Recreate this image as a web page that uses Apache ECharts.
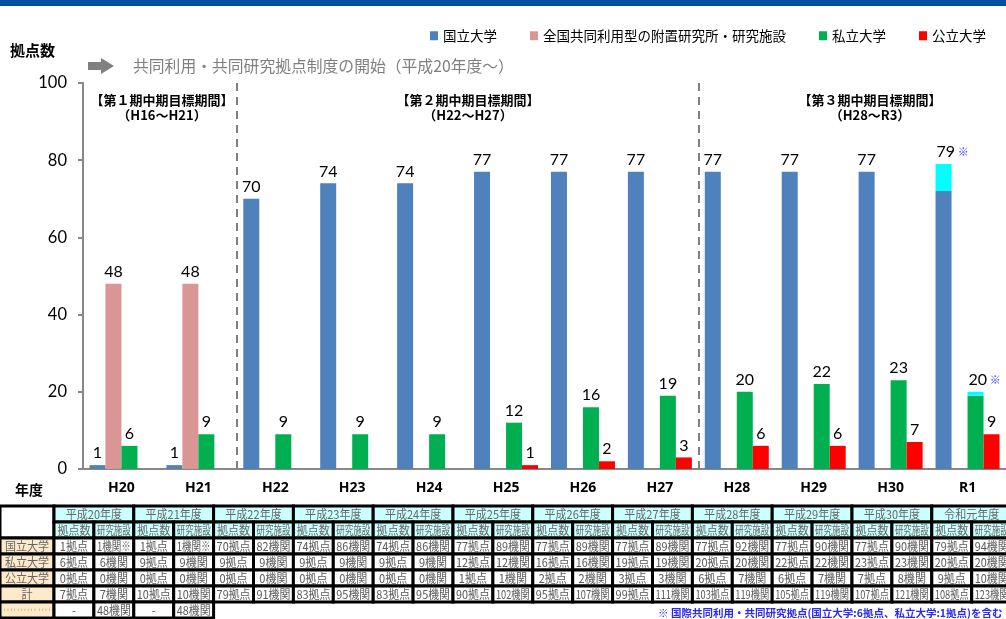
<!DOCTYPE html>
<html>
<head>
<meta charset="utf-8">
<script src="https://cdn.jsdelivr.net/npm/echarts@6/dist/echarts.min.js"></script>
<style>
  html, body { margin: 0; padding: 0; background: #fff; }
  #chart { width: 1006px; height: 619px; }
</style>
</head>
<body>
<div id="chart"></div>
<script>
// chart data
var years = ['H20', 'H21', 'H22', 'H23', 'H24', 'H25', 'H26', 'H27', 'H28', 'H29', 'H30', 'R1'];
var national = [1, 1, 70, 74, 74, 77, 77, 77, 77, 77, 77, 72];
var nationalIntl = [null, null, null, null, null, null, null, null, null, null, null, 7];
var institutes = [48, 48, null, null, null, null, null, null, null, null, null, null];
var privateUniv = [6, 9, 9, 9, 9, 12, 16, 19, 20, 22, 23, 19];
var privateIntl = [null, null, null, null, null, null, null, null, null, null, null, 1];
var publicUniv = [null, null, null, null, null, 1, 2, 3, 6, 6, 7, 9];
// period boundaries (category index where a new period starts)
var periodStarts = [2, 8];

// table data
var tableYears = ['平成20年度', '平成21年度', '平成22年度', '平成23年度', '平成24年度', '平成25年度',
  '平成26年度', '平成27年度', '平成28年度', '平成29年度', '平成30年度', '令和元年度'];
var rowNames = ['国立大学', '私立大学', '公立大学', '計'];
var natBases = [1, 1, 70, 74, 74, 77, 77, 77, 77, 77, 77, 79];
var natInst = ['1機関※', '1機関※', 82, 86, 86, 89, 89, 89, 92, 90, 90, 94];
var privBases = [6, 9, 9, 9, 9, 12, 16, 19, 20, 22, 23, 20];
var privInst = [6, 9, 9, 9, 9, 12, 16, 19, 20, 22, 23, 20];
var pubBases = [0, 0, 0, 0, 0, 1, 2, 3, 6, 6, 7, 9];
var pubInst = [0, 0, 0, 0, 0, 1, 2, 3, 7, 7, 8, 10];
var totBases = [7, 10, 79, 83, 83, 90, 95, 99, 103, 105, 107, 108];
var totInst = [7, 10, 91, 95, 95, 102, 107, 111, 119, 119, 121, 123];
var extraRow = [['-', '48機関'], ['-', '48機関']];

var CJK = '"Noto Sans CJK JP", "Noto Sans", sans-serif';
var NUM = 'Lato, "Noto Sans", sans-serif';

var dom = document.getElementById('chart');
var myChart = echarts.init(dom);

// measure text so table cells shrink to fit like the spreadsheet did
var mctx = document.createElement('canvas').getContext('2d');
var cellFont = 12;

var g = [];
g.push({ type: 'rect', shape: { x: 0, y: 0, width: 1006, height: 6 }, style: { fill: '#0050a0' } });

function cell(x, y, w, h, fill, txt, color) {
  g.push({ type: 'rect', shape: { x: x, y: y, width: w, height: h },
    style: { fill: fill, stroke: '#000', lineWidth: 3 } });
  if (txt !== undefined && txt !== null && txt !== '') {
    mctx.font = cellFont + 'px ' + CJK;
    var tw = mctx.measureText(String(txt)).width;
    var sx = Math.min(0.92, (w - 6) / tw);
    g.push({ type: 'text', x: x + w / 2, y: y + h / 2 + 0.5, scaleX: sx,
      style: { text: String(txt), fontSize: cellFont, fontFamily: CJK, fill: color || '#595959',
        align: 'center', verticalAlign: 'middle' } });
  }
}

var tblTop = 506, rowH = 16, lblW = 54, colW = 79.8;
cell(0, tblTop, lblW, rowH * 2, '#fff');
var dataRows = [[natBases, natInst], [privBases, privInst], [pubBases, pubInst], [totBases, totInst]];
for (var r = 0; r < rowNames.length; r++) {
  cell(0, tblTop + rowH * (r + 2), lblW, rowH, '#fdeacb', rowNames[r], '#666');
}
cell(0, tblTop + rowH * 6, lblW, rowH, '#fdeacb', '・・・・・・・・・・ ・・・・', '#c9a060');
for (var i = 0; i < tableYears.length; i++) {
  var x = lblW + i * colW;
  cell(x, tblTop, colW, rowH, '#ccffff', tableYears[i], '#666');
  cell(x, tblTop + rowH, colW / 2, rowH, '#ccffff', '拠点数', '#666');
  cell(x + colW / 2, tblTop + rowH, colW / 2, rowH, '#ccffff', '研究施設', '#666');
  for (var r = 0; r < dataRows.length; r++) {
    var b = dataRows[r][0][i], ins = dataRows[r][1][i];
    cell(x, tblTop + rowH * (r + 2), colW / 2, rowH, '#fff', b + '拠点');
    cell(x + colW / 2, tblTop + rowH * (r + 2), colW / 2, rowH, '#fff',
      typeof ins === 'string' ? ins : ins + '機関');
  }
}
for (var i = 0; i < extraRow.length; i++) {
  var x = lblW + i * colW;
  cell(x, tblTop + rowH * 6, colW / 2, rowH, '#fff', extraRow[i][0]);
  cell(x + colW / 2, tblTop + rowH * 6, colW / 2, rowH, '#fff', extraRow[i][1]);
}

// titles / notes
g.push({ type: 'text', x: 10, y: 50, style: { text: '拠点数', fontSize: 15, fontWeight: 'bold',
  fontFamily: CJK, fill: '#000', verticalAlign: 'middle' } });
g.push({ type: 'polygon', shape: { points: [[88, 62], [101, 62], [101, 58], [114, 66], [101, 74], [101, 70], [88, 70]] },
  style: { fill: '#808080' } });
g.push({ type: 'text', x: 133, y: 66, style: { text: '共同利用・共同研究拠点制度の開始（平成20年度～）',
  fontSize: 15.8, fontFamily: CJK, fill: '#7f7f7f', verticalAlign: 'middle' } });
var periods = [[162, '【第１期中期目標期間】', '（H16～H21）'],
  [468, '【第２期中期目標期間】', '（H22～H27）'],
  [870, '【第３期中期目標期間】', '（H28～R3）']];
periods.forEach(function (p) {
  g.push({ type: 'text', x: p[0], y: 100, style: { text: p[1], fontSize: 13, fontWeight: 'bold',
    fontFamily: CJK, fill: '#000', align: 'center', verticalAlign: 'middle' } });
  g.push({ type: 'text', x: p[0], y: 115, style: { text: p[2], fontSize: 13, fontWeight: 'bold',
    fontFamily: CJK, fill: '#000', align: 'center', verticalAlign: 'middle' } });
});
g.push({ type: 'text', x: 15, y: 490, style: { text: '年度', fontSize: 14, fontWeight: 'bold',
  fontFamily: CJK, fill: '#000', verticalAlign: 'middle' } });
g.push({ type: 'text', x: 658, y: 608, style: { text: '※ 国際共同利用・共同研究拠点(国立大学:6拠点、私立大学:1拠点)を含む',
  fontSize: 10.5, fontWeight: 'bold', fontFamily: CJK, fill: '#2a2aee' } });

var valLabel = { show: true, position: 'top', distance: 4, fontSize: 16, fontFamily: NUM, color: '#000' };
function starLabel(total) {
  return { show: true, position: 'top', distance: 4, offset: [9, 0],
    formatter: '{v|' + total + '} {m|※}',
    rich: { v: { fontSize: 16, fontFamily: NUM, color: '#000' },
            m: { fontSize: 11, fontFamily: CJK, color: '#3333ff' } } };
}
var last = years.length - 1;
var natData = national.map(function (v, i) { return i === last ? { value: v, label: { show: false } } : v; });
var privData = privateUniv.map(function (v, i) { return i === last ? { value: v, label: { show: false } } : v; });
var natIntlData = nationalIntl.map(function (v, i) {
  return v == null ? null : { value: v, label: starLabel(national[i] + v) };
});
var privIntlData = privateIntl.map(function (v, i) {
  return v == null ? null : { value: v, label: starLabel(privateUniv[i] + v) };
});

option = {
  animation: false,
  textStyle: { fontFamily: CJK },
  legend: {
    data: ['国立大学', '全国共同利用型の附置研究所・研究施設', '私立大学', '公立大学'],
    left: 425, top: 24, icon: 'rect', itemWidth: 8, itemHeight: 9, itemGap: 33,
    textStyle: { fontSize: 13.5, color: '#000', fontFamily: CJK }
  },
  grid: { left: 83, top: 83, width: 924, height: 386 },
  xAxis: [{
    type: 'category', data: years,
    axisLine: { lineStyle: { color: '#888', width: 2 } },
    axisTick: { length: 5, lineStyle: { color: '#888', width: 2 } },
    axisLabel: { fontSize: 14, fontWeight: 'bold', color: '#000', margin: 12, fontFamily: 'Noto Sans' },
    splitLine: { show: false }
  }, {
    // helper axis so the period dividers sit on category boundaries
    type: 'value', min: 0, max: years.length, show: false
  }],
  yAxis: {
    type: 'value', min: 0, max: 100, interval: 20,
    axisLine: { show: true, lineStyle: { color: '#888', width: 2 } },
    axisTick: { show: true, length: 5, lineStyle: { color: '#888', width: 2 } },
    axisLabel: { fontSize: 16.5, color: '#000', margin: 16, fontFamily: NUM },
    splitLine: { show: false }
  },
  series: [
    { name: '国立大学', type: 'bar', stack: 'nat', barWidth: 16, barGap: '0%', data: natData,
      itemStyle: { color: '#4f81bd' }, label: valLabel },
    { name: '全国共同利用型の附置研究所・研究施設', type: 'bar', barWidth: 16, barGap: '0%', data: institutes,
      itemStyle: { color: '#d99694' }, label: valLabel },
    { name: '私立大学', type: 'bar', stack: 'priv', barWidth: 16, barGap: '0%', data: privData,
      itemStyle: { color: '#00b050' }, label: valLabel },
    { name: '公立大学', type: 'bar', barWidth: 16, barGap: '0%', data: publicUniv,
      itemStyle: { color: '#ff0000' }, label: valLabel },
    { name: '国際(国立)', type: 'bar', stack: 'nat', barWidth: 16, barGap: '0%', data: natIntlData,
      itemStyle: { color: '#00ffff' } },
    { name: '国際(私立)', type: 'bar', stack: 'priv', barWidth: 16, barGap: '0%', data: privIntlData,
      itemStyle: { color: '#00ffff' } },
    { name: 'period', type: 'line', xAxisIndex: 1, data: [], silent: true,
      markLine: { symbol: 'none', silent: true, label: { show: false },
        lineStyle: { type: [8, 6], color: '#808080', width: 2 },
        data: periodStarts.map(function (p) { return { xAxis: p }; }) } }
  ],
  graphic: g
};
myChart.setOption(option, true);
</script>
</body>
</html>
